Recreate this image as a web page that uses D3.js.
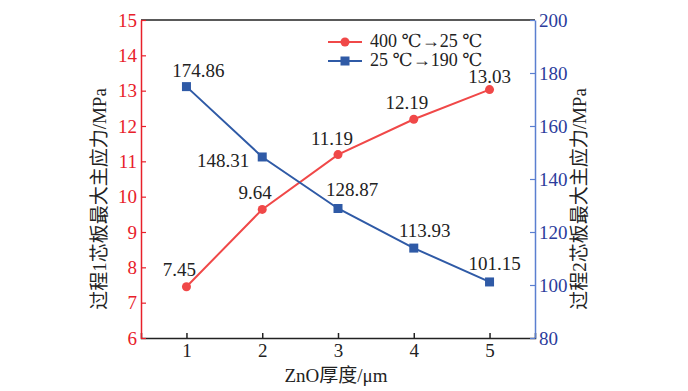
<!DOCTYPE html>
<html>
<head>
<meta charset="utf-8">
<script src="https://cdn.jsdelivr.net/npm/d3@7"></script>
<style>
  body { margin: 0; background: #fff; }
  svg text { font-family: "Liberation Serif", "Times New Roman", Times, "DejaVu Serif", "Noto Sans CJK SC", serif !important; }
</style>
</head>
<body>
<svg id="chart" width="688" height="391"></svg>
<script>
// ZnO thickness (um)
const thickness = [1, 2, 3, 4, 5];
// process 1: 400 C -> 25 C (left axis)
const stress1 = [7.45, 9.64, 11.19, 12.19, 13.03];
// process 2: 25 C -> 190 C (right axis)
const stress2 = [174.86, 148.31, 128.87, 113.93, 101.15];
const seriesNames = ["400 \u2103\u219225 \u2103", "25 \u2103\u2192190 \u2103"];
const leftTicks = [6, 7, 8, 9, 10, 11, 12, 13, 14, 15];
const rightTicks = [80, 100, 120, 140, 160, 180, 200];

const redLine = "#f04848";
const blueLine = "#2f5aa6";
const redText = "#e8202a";
const blueText = "#2b3c9c";

const svg = d3.select("#chart");
const plotL = 141, plotR = 535, plotT = 20, plotB = 338;

const x = d3.scaleLinear().domain([0.4, 5.6]).range([plotL, plotR]);
const yL = d3.scaleLinear().domain([6, 15]).range([plotB, plotT]);
const yR = d3.scaleLinear().domain([80, 200]).range([plotB, plotT]);

// frame top line
svg.append("line")
    .attr("x1", plotL).attr("x2", plotR)
    .attr("y1", plotT).attr("y2", plotT)
    .attr("stroke", "#222").attr("stroke-width", 1.5);

// x axis
const xAxis = svg.append("g")
    .attr("transform", `translate(0,${plotB})`)
    .call(d3.axisBottom(x).tickValues(thickness).tickSize(-5).tickPadding(6).tickFormat(d3.format("d")));
xAxis.select(".domain").attr("stroke", "#222").attr("stroke-width", 1.5);
xAxis.selectAll(".tick line").attr("stroke", "#222").attr("stroke-width", 1.5);
xAxis.selectAll("text").attr("font-size", 19).attr("fill", "#222");

// left axis
const lAxis = svg.append("g")
    .attr("transform", `translate(${plotL},0)`)
    .call(d3.axisLeft(yL).tickValues(leftTicks).tickSize(-5).tickPadding(4).tickSizeOuter(0));
lAxis.select(".domain").attr("stroke", redText).attr("stroke-width", 1.5);
lAxis.selectAll(".tick line").attr("stroke", redText).attr("stroke-width", 1.2);
lAxis.selectAll("text").attr("font-size", 19).attr("fill", redText);

// right axis
const rAxis = svg.append("g")
    .attr("transform", `translate(${plotR},0)`)
    .call(d3.axisRight(yR).tickValues(rightTicks).tickSize(-5).tickPadding(4).tickSizeOuter(0));
rAxis.select(".domain").attr("stroke", "#5b7fd0").attr("stroke-width", 1.5);
rAxis.selectAll(".tick line").attr("stroke", "#5b7fd0").attr("stroke-width", 1.2);
rAxis.selectAll("text").attr("font-size", 19).attr("fill", blueText);

// axis titles
svg.append("text")
    .attr("x", (plotL + plotR) / 2 - 2).attr("y", 382)
    .attr("text-anchor", "middle").attr("font-size", 19).attr("fill", "#222")
    .text("ZnO厚度/μm");

svg.append("text")
    .attr("transform", `translate(106,${(plotT + plotB) / 2 + 20}) rotate(-90)`)
    .attr("text-anchor", "middle").attr("font-size", 19).attr("fill", "#222")
    .text("过程1芯板最大主应力/MPa");

svg.append("text")
    .attr("transform", `translate(586,${(plotT + plotB) / 2 + 20}) rotate(-90)`)
    .attr("text-anchor", "middle").attr("font-size", 19).attr("fill", "#222")
    .text("过程2芯板最大主应力/MPa");

// series 1
const line1 = d3.line().x((d, i) => x(thickness[i])).y(d => yL(d));
svg.append("path").datum(stress1)
    .attr("d", line1).attr("fill", "none")
    .attr("stroke", redLine).attr("stroke-width", 2);
svg.selectAll(".p1").data(stress1).enter().append("circle")
    .attr("cx", (d, i) => x(thickness[i])).attr("cy", d => yL(d))
    .attr("r", 4.5).attr("fill", redLine);

// series 2
const line2 = d3.line().x((d, i) => x(thickness[i])).y(d => yR(d));
svg.append("path").datum(stress2)
    .attr("d", line2).attr("fill", "none")
    .attr("stroke", blueLine).attr("stroke-width", 2);
svg.selectAll(".p2").data(stress2).enter().append("rect")
    .attr("x", (d, i) => x(thickness[i]) - 4.5).attr("y", d => yR(d) - 4.5)
    .attr("width", 9).attr("height", 9).attr("fill", blueLine);

// value labels (offsets from marker)
const off1 = [[-7, -11, "middle"], [-7, -10, "middle"], [-6, -10, "middle"], [-7, -10, "middle"], [0, -7, "middle"]];
const off2 = [[12, -10, "middle"], [-13, 10, "end"], [14, -12, "middle"], [11, -11, "middle"], [5, -12, "middle"]];

svg.selectAll(".l1").data(stress1).enter().append("text")
    .attr("x", (d, i) => x(thickness[i]) + off1[i][0])
    .attr("y", d => yL(d))
    .attr("dy", (d, i) => off1[i][1])
    .attr("text-anchor", (d, i) => off1[i][2])
    .attr("font-size", 19).attr("fill", "#222")
    .text(d => d.toFixed(2));

svg.selectAll(".l2").data(stress2).enter().append("text")
    .attr("x", (d, i) => x(thickness[i]) + off2[i][0])
    .attr("y", d => yR(d))
    .attr("dy", (d, i) => off2[i][1])
    .attr("text-anchor", (d, i) => off2[i][2])
    .attr("font-size", 19).attr("fill", "#222")
    .text(d => d.toFixed(2));

// legend
const legend = svg.append("g").attr("transform", "translate(328,42)");
[redLine, blueLine].forEach((c, i) => {
    const g = legend.append("g").attr("transform", `translate(0,${i * 19})`);
    g.append("line").attr("x1", 0).attr("x2", 34).attr("y1", 0).attr("y2", 0)
        .attr("stroke", c).attr("stroke-width", 2);
    if (i === 0) {
        g.append("circle").attr("cx", 17).attr("cy", 0).attr("r", 4.5).attr("fill", c);
    } else {
        g.append("rect").attr("x", 12.5).attr("y", -4.5).attr("width", 9).attr("height", 9).attr("fill", c);
    }
    g.append("text").attr("x", 42).attr("y", 5)
        .attr("font-size", 18).attr("fill", "#222")
        .text(seriesNames[i]);
});
</script>
</body>
</html>
